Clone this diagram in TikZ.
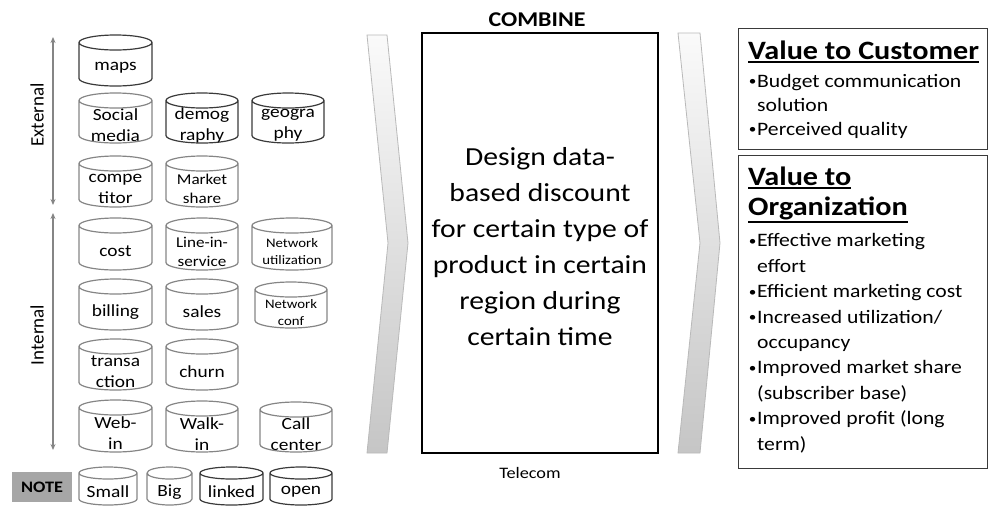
\documentclass[tikz,border=0pt]{standalone}
\usepackage{fontspec}
\usepackage{graphicx}
\setmainfont{Carlito}[FakeStretch=1.14]
\newfontfamily\plainfont{Carlito}
\newcommand\myul[1]{\leavevmode\vtop{\hbox{#1}\kern2pt\hrule height 1.8pt}}
\newcommand\bul{\makebox[9pt][c]{\raisebox{1.5pt}{\scalebox{0.7}{•}}}}
\newcommand\ind{\hspace*{9pt}}
\usetikzlibrary{arrows.meta}
\definecolor{dk}{HTML}{3A3A3A}
\definecolor{md}{HTML}{858585}
\definecolor{notegray}{HTML}{A6A6A6}
\newcommand\cylnode[9]{%
  \node[cyltext,font=#8] (#1) at ({(#2+#3)/2},{-(#4+#5+2*#6)/2}) {#9};
  \draw[cylline,draw=#7] (#2,{-#4-#6}) arc[start angle=180,end angle=-180,x radius={(#3-#2)/2},y radius=#6]
    (#2,{-#4-#6}) -- (#2,{-#5+#6}) arc[start angle=180,end angle=360,x radius={(#3-#2)/2},y radius=#6] -- (#3,{-#4-#6});
}
\newcommand\cfN{\fontsize{17}{21}\selectfont}
\newcommand\cfM{\fontsize{15}{19}\selectfont}
\newcommand\cfS{\fontsize{13}{17}\selectfont}
\begin{document}
\begin{tikzpicture}[x=1pt,y=1pt,
  cyltext/.style={align=center,inner sep=0pt},
  cylline/.style={line width=1.2pt},
  varrow/.style={draw=md,line width=1.5pt,{Stealth[length=6pt,width=5pt]}-{Stealth[length=6pt,width=5pt]}},
  chev/.style={draw=gray!55,line width=0.8pt,top color=gray!4,bottom color=gray!45},
  valbox/.style={draw=dk,line width=1.3pt,anchor=north west,inner sep=0pt,minimum width=249pt},
  vtitle/.style={anchor=base west,inner sep=0pt,align=left,font=\bfseries\fontsize{26.5}{30}\selectfont},
  vlist/.style={anchor=base west,inner sep=0pt,align=left}]
\useasboundingbox (0,0) rectangle (989,-507);
% side arrows and labels
\coordinate (e1) at (53,-37);
\coordinate (e2) at (53,-205);
\coordinate (i1) at (53,-213);
\coordinate (i2) at (53,-450);
\draw[varrow] (e1) -- (e2);
\draw[varrow] (i1) -- (i2);
\node[rotate=90,font=\plainfont\fontsize{19}{22}\selectfont,inner sep=0pt] (ext) at (37,-115) {External};
\node[rotate=90,font=\plainfont\fontsize{19}{22}\selectfont,inner sep=0pt] (int) at (37,-335) {Internal};
% cylinders
\cylnode{maps}{79}{152}{35}{86}{7.5}{dk}{\cfN}{maps}
\cylnode{social}{79}{152}{93}{143}{7.5}{md}{\cfN}{Social\\media}
\cylnode{demog}{166}{238}{93}{143}{7.5}{dk}{\cfN}{demog\\raphy}
\cylnode{geog}{252}{324}{93}{143}{7.5}{dk}{\cfN}{geogra\\phy}
\cylnode{compet}{79}{152}{156}{207}{7.5}{md}{\cfN}{compe\\titor}
\cylnode{market}{166}{238}{156}{207}{7.5}{md}{\cfM}{Market\\share}
\cylnode{cost}{79}{152}{218}{270}{7.5}{md}{\cfN}{cost}
\cylnode{lis}{166}{238}{218}{270}{7.5}{md}{\cfM}{Line-in-\\service}
\cylnode{netu}{252}{332}{218}{270}{7.5}{md}{\cfS}{Network\\utilization}
\cylnode{billing}{79}{152}{279}{330}{7.5}{md}{\cfN}{billing}
\cylnode{sales}{166}{238}{279}{330}{7.5}{md}{\cfN}{sales}
\cylnode{netc}{255}{327}{282}{328}{7.5}{md}{\cfS}{Network\\conf}
\cylnode{trans}{79}{152}{339}{390}{7.5}{md}{\cfN}{transa\\ction}
\cylnode{churn}{166}{238}{339}{390}{7.5}{md}{\cfN}{churn}
\cylnode{webin}{79}{152}{400}{452}{7.5}{md}{\cfN}{Web-\\in}
\cylnode{walkin}{166}{238}{401}{452}{7.5}{md}{\cfN}{Walk-\\in}
\cylnode{callc}{260}{332}{402}{452}{7.5}{md}{\cfN}{Call\\center}
% note row
\node[fill=notegray,minimum width=60pt,minimum height=30pt,inner sep=0pt,font=\bfseries\fontsize{16}{19}\selectfont] (note) at (42,-487) {NOTE};
\cylnode{small}{79}{137}{467}{505}{6}{md}{\cfN}{Small}
\cylnode{big}{147}{192}{467}{505}{6}{md}{\cfN}{Big}
\cylnode{linked}{200}{263}{467}{505}{6}{dk}{\cfN}{linked}
\cylnode{open}{270}{332}{467}{505}{6}{dk}{\cfN}{open}
% chevrons
\path[chev] (367,-35) -- (387,-35) -- (408,-243) -- (387,-453) -- (367,-453) -- (388,-243) -- cycle;
\path[chev] (678,-33) -- (700,-33) -- (720,-243) -- (700,-453) -- (678,-453) -- (700,-243) -- cycle;
% central box
\node[draw=black,line width=1.5pt,minimum width=236pt,minimum height=420pt,inner sep=0pt] (box) at (540,-243) {};
\node[font=\bfseries\fontsize{21}{25}\selectfont,inner sep=0pt] (comb) at (537,-20) {COMBINE};
\node[font=\fontsize{16}{19}\selectfont,inner sep=0pt] (tel) at (530,-473) {Telecom};
\node[align=center,inner sep=0pt,font=\fontsize{26}{36}\selectfont] (design) at (540,-247) {Design data-\\based discount\\for certain type of\\product in certain\\region during\\certain time};
% value boxes
\node[valbox,minimum height=121pt] (vc) at (738,-28) {};
\node[valbox,minimum height=313pt] (vo) at (738,-155) {};
\node[vtitle] (vct) at (748,-59) {\myul{Value to Customer}};
\node[vlist,font=\fontsize{19}{24}\selectfont] (vcl) at (748,-135) {\bul Budget communication\\\ind solution\\\bul Perceived quality};
\node[vtitle] (vot) at (748,-215) {\myul{Value to}\\\myul{Organization}};
\node[vlist,font=\fontsize{19}{25.4}\selectfont] (vol) at (748,-450) {\bul Effective marketing\\\ind effort\\\bul Efficient marketing cost\\\bul Increased utilization/\\\ind occupancy\\\bul Improved market share\\\ind (subscriber base)\\\bul Improved profit (long\\\ind term)};
\end{tikzpicture}
\end{document}
